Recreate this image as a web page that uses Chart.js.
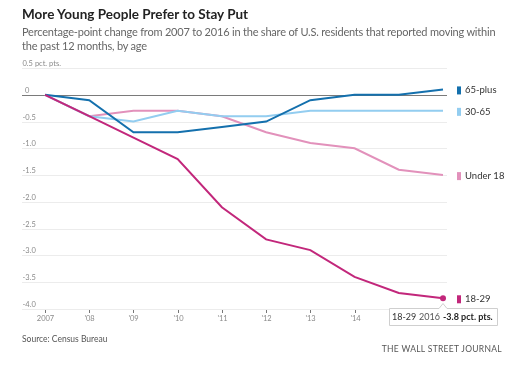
<!DOCTYPE html>
<html>
<head>
<meta charset="utf-8">
<script src="https://cdn.jsdelivr.net/npm/chart.js@4"></script>
<style>
  body { margin: 0; background: #fff; font-family: Lato, sans-serif; }
  #wrap { position: relative; width: 508px; height: 367px; overflow: hidden; }
  #chart { position: absolute; left: 0; top: 0; }
  .txt { position: absolute; white-space: nowrap; }
  #title { left: 22px; top: 6px; font-size: 13.5px; font-weight: 700; color: #222; }
  #sub { left: 22px; top: 25px; font-size: 11px; line-height: 14px; color: #666; letter-spacing: -0.2px; }
  #source { left: 22px; top: 334px; font-size: 8.5px; color: #555; }
  #wsj { right: 6px; top: 344px; font-size: 8.5px; color: #555; letter-spacing: 0.3px; }
</style>
</head>
<body>
<div id="wrap">
  <canvas id="chart" width="508" height="367"></canvas>
  <div class="txt" id="title">More Young People Prefer to Stay Put</div>
  <div class="txt" id="sub">Percentage-point change from 2007 to 2016 in the share of U.S. residents that reported moving within<br>the past 12 months, by age</div>
  <div class="txt" id="source">Source: Census Bureau</div>
  <div class="txt" id="wsj">THE WALL STREET JOURNAL</div>
</div>
<script>
  const years = ['2007', '2008', '2009', '2010', '2011', '2012', '2013', '2014', '2015', '2016'];
  const yearLabels = ['2007', "'08", "'09", "'10", "'11", "'12", "'13", "'14", "'15", "'16"];
  const yTicks = [0.5, 0, -0.5, -1, -1.5, -2, -2.5, -3, -3.5, -4];

  const age1829 = [0, -0.4, -0.8, -1.2, -2.1, -2.7, -2.9, -3.4, -3.7, -3.8];
  const age65plus = [0, -0.1, -0.7, -0.7, -0.6, -0.5, -0.1, 0, 0, 0.1];
  const age3065 = [0, -0.4, -0.5, -0.3, -0.4, -0.4, -0.3, -0.3, -0.3, -0.3];
  const under18 = [0, -0.4, -0.3, -0.3, -0.4, -0.7, -0.9, -1.0, -1.4, -1.5];

  const colors = {
    '18-29': '#c2277b',
    '65-plus': '#1470ad',
    '30-65': '#93cdf0',
    'Under 18': '#e291bb'
  };

  // draws gridlines, tick labels, end labels and the fixed tooltip box
  const decor = {
    id: 'decor',
    beforeDatasetsDraw(chart) {
      const ctx = chart.ctx;
      const x = chart.scales.x, y = chart.scales.y;
      ctx.save();
      ctx.font = '7.5px Lato, sans-serif';
      ctx.textBaseline = 'alphabetic';
      ctx.textAlign = 'left';
      yTicks.forEach(v => {
        const py = Math.round(y.getPixelForValue(v)) + 0.5;
        ctx.strokeStyle = v === 0 ? '#7a7a7a' : '#ececec';
        ctx.lineWidth = 1;
        ctx.beginPath();
        ctx.moveTo(22, py);
        ctx.lineTo(447, py);
        ctx.stroke();
        ctx.fillStyle = '#8a8a8a';
        let label = v === 0.5 ? '0.5 pct. pts.' : (v === 0 ? '0' : v.toFixed(1));
        ctx.fillText(label, v === 0 ? 25 : 22.5, py - 3);
      });
      // x ticks
      const base = y.getPixelForValue(-4);
      ctx.textAlign = 'center';
      ctx.textBaseline = 'top';
      years.forEach((yr, i) => {
        const px = Math.round(x.getPixelForValue(i)) + 0.5;
        ctx.strokeStyle = '#777';
        ctx.beginPath();
        ctx.moveTo(px, base + 1);
        ctx.lineTo(px, base + 4);
        ctx.stroke();
        ctx.fillStyle = '#8a8a8a';
        ctx.fillText(yearLabels[i], px, base + 5.5);
      });
      ctx.restore();
    },
    afterDatasetsDraw(chart) {
      const ctx = chart.ctx;
      const x = chart.scales.x, y = chart.scales.y;
      ctx.save();
      // end labels
      ctx.font = '9.5px Lato, sans-serif';
      ctx.textBaseline = 'middle';
      ctx.textAlign = 'left';
      chart.data.datasets.forEach(ds => {
        const last = ds.data[ds.data.length - 1];
        const py = y.getPixelForValue(last) + 1;
        ctx.fillStyle = ds.borderColor;
        ctx.fillRect(457, py - 4, 4, 8);
        ctx.fillStyle = '#333';
        ctx.fillText(ds.label, 465, py);
      });
      // tooltip box for last 18-29 point
      const px = x.getPixelForValue(years.length - 1);
      const py = y.getPixelForValue(age1829[age1829.length - 1]);
      const bx = 389.5, by = Math.round(py) + 10.5, bw = 108, bh = 17;
      ctx.fillStyle = '#fff';
      ctx.strokeStyle = '#cfcfcf';
      ctx.lineWidth = 1;
      ctx.beginPath();
      ctx.moveTo(bx, by);
      ctx.lineTo(px - 4, by);
      ctx.lineTo(px, by - 5);
      ctx.lineTo(px + 4, by);
      ctx.lineTo(bx + bw, by);
      ctx.lineTo(bx + bw, by + bh);
      ctx.lineTo(bx, by + bh);
      ctx.closePath();
      ctx.fill();
      ctx.stroke();
      ctx.font = '9px Lato, sans-serif';
      ctx.fillStyle = '#333';
      ctx.fillText('18-29', 392, by + bh / 2);
      ctx.fillStyle = '#555';
      ctx.fillText('2016', 419, by + bh / 2);
      ctx.fillStyle = '#222';
      ctx.font = 'bold 9px Lato, sans-serif';
      ctx.fillText('-3.8 pct. pts.', 443, by + bh / 2);
      ctx.restore();
    }
  };

  const lastOnly = age1829.map((v, i) => i === age1829.length - 1 ? 3 : 0);

  new Chart(document.getElementById('chart').getContext('2d'), {
    type: 'line',
    data: {
      labels: years,
      datasets: [{
        label: '18-29',
        data: age1829,
        borderColor: colors['18-29'],
        backgroundColor: colors['18-29'],
        borderWidth: 2,
        pointRadius: lastOnly,
        pointBorderWidth: 0,
        tension: 0,
        fill: false
      }, {
        label: '65-plus',
        data: age65plus,
        borderColor: colors['65-plus'],
        borderWidth: 2,
        pointRadius: 0,
        tension: 0,
        fill: false
      }, {
        label: '30-65',
        data: age3065,
        borderColor: colors['30-65'],
        borderWidth: 2,
        pointRadius: 0,
        tension: 0,
        fill: false
      }, {
        label: 'Under 18',
        data: under18,
        borderColor: colors['Under 18'],
        borderWidth: 2,
        pointRadius: 0,
        tension: 0,
        fill: false
      }]
    },
    options: {
      responsive: false,
      animation: false,
      devicePixelRatio: 1,
      clip: false,
      layout: { padding: { left: 45, right: 65, top: 68, bottom: 58 } },
      plugins: { legend: { display: false }, tooltip: { enabled: false } },
      events: [],
      scales: {
        x: { type: 'category', display: false, offset: false },
        y: { display: false, min: -4, max: 0.5 }
      }
    },
    plugins: [decor]
  });
</script>
</body>
</html>
